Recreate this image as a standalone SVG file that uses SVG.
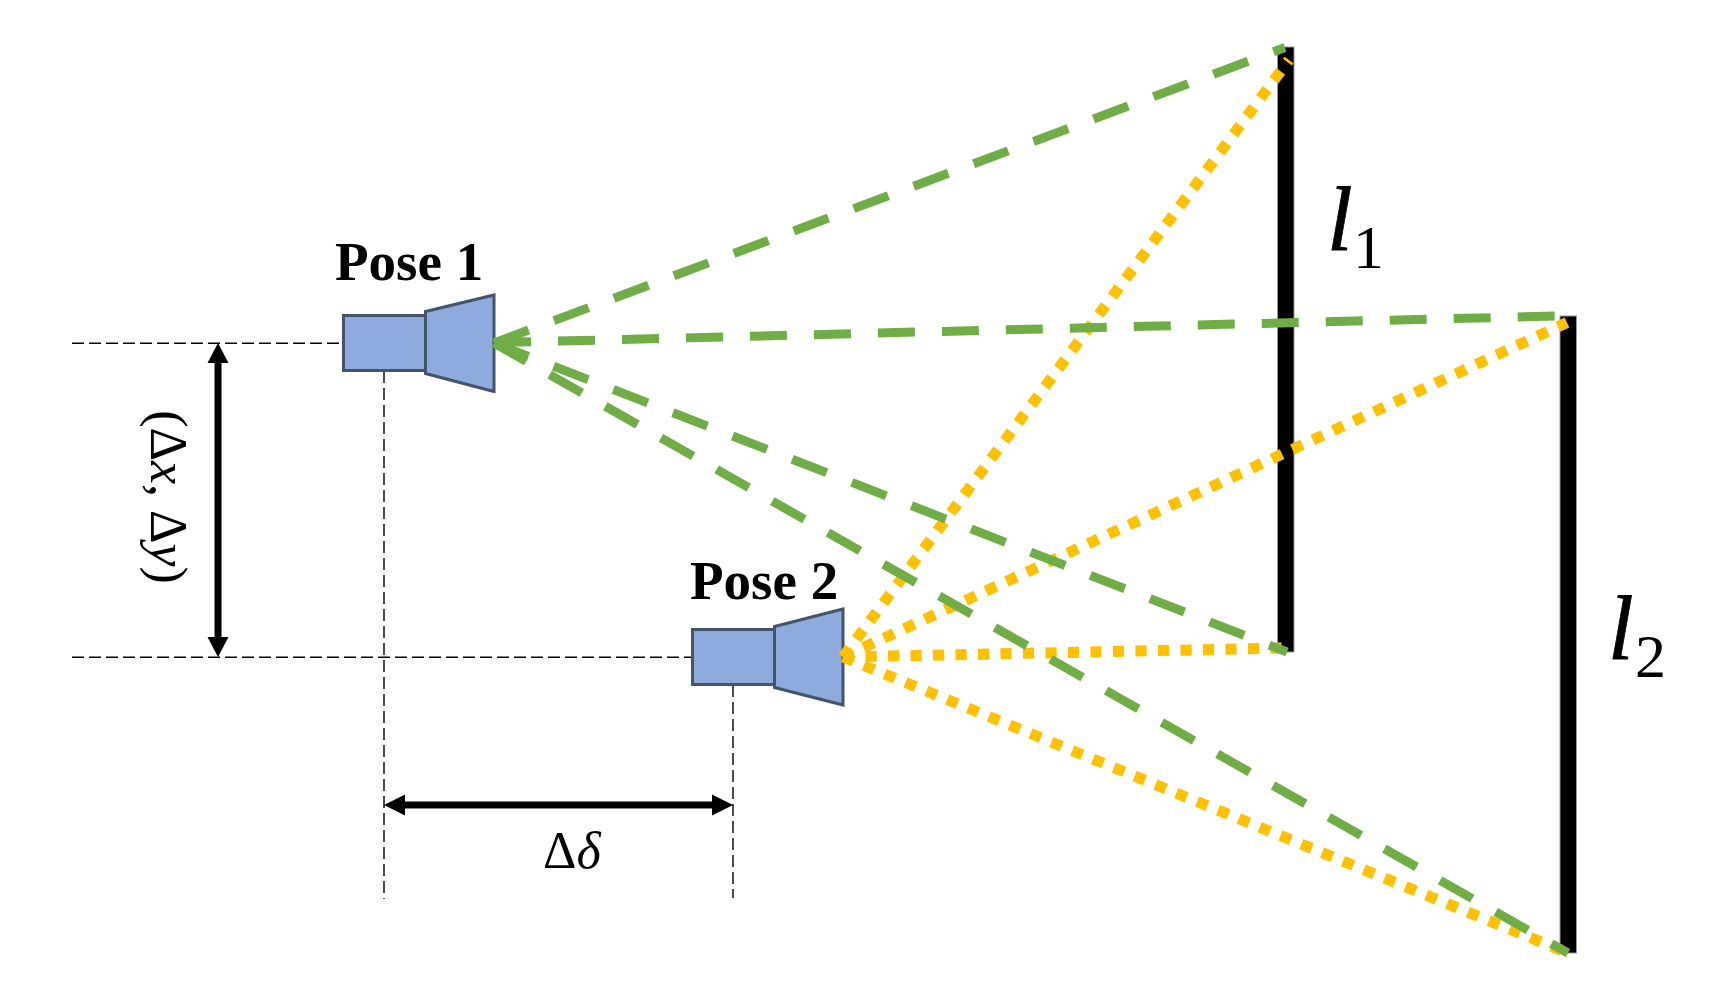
<svg xmlns="http://www.w3.org/2000/svg" width="1734" height="1002" viewBox="0 0 1734 1002">
<style>
.cam{fill:#8FAADC;stroke:#44546A;stroke-width:3;stroke-linejoin:miter}
.wall{fill:#000;stroke:#999;stroke-width:1}
.thin{stroke:#000;stroke-width:1.4;stroke-dasharray:12 5;fill:none}
.dim{stroke:#000;stroke-width:7;fill:none}
.head{fill:#000}
.green{stroke:#70AD47;stroke-width:9;stroke-dasharray:37 27;fill:none}
.yellow{stroke:#FFC000;stroke-width:11;stroke-dasharray:11.2 11.3;fill:none}
.serif{font-family:"Liberation Serif","Times New Roman",serif;fill:#000}
.pose{font-size:55px;font-weight:bold}
.math{font-size:52px}
.it{font-style:italic}
.ell{font-size:92px;font-style:italic;stroke:#000;stroke-width:0.8}
.sub{font-size:62px}
</style>
<rect width="1734" height="1002" fill="#fff"/>
<g id="guides">
<line class="thin" x1="72" y1="343.300" x2="343" y2="343.300"/>
<line class="thin" x1="72" y1="657.300" x2="692" y2="657.300"/>
<line class="thin" x1="384" y1="371" x2="384" y2="899"/>
<line class="thin" x1="733" y1="685" x2="733" y2="898"/>
</g>
<g id="wall-l1"><rect class="wall" x="1277.500" y="47" width="16.500" height="605"/></g>
<g id="wall-l2"><rect class="wall" x="1560" y="316" width="16.500" height="637"/></g>
<g id="pose1">
<rect class="cam" x="343.500" y="315.500" width="82" height="55"/>
<polygon class="cam" points="425.500,311.500 494,295 494,391.500 425.500,373.500"/>
<text class="serif pose" x="335" y="280">Pose 1</text>
</g>
<g id="pose2">
<rect class="cam" x="692.500" y="629.500" width="82" height="55"/>
<polygon class="cam" points="774.500,626.500 843,609 843,705 774.500,687.500"/>
<text class="serif pose" x="690" y="598.500">Pose 2</text>
</g>
<g id="connectors">
<g id="yellow-lines">
<line class="yellow" x1="843" y1="657" x2="1289" y2="60"/>
<line class="yellow" x1="843" y1="657" x2="1567" y2="322.500"/>
<line class="yellow" x1="843" y1="657" x2="1285" y2="648"/>
<line class="yellow" x1="843" y1="657" x2="1561.500" y2="950.300"/>
</g>
<g id="green-lines">
<line class="green" x1="494" y1="343" x2="1285" y2="47.500"/>
<line class="green" x1="494" y1="342.700" x2="1556" y2="316"/>
<line class="green" x1="494" y1="343" x2="1287" y2="652"/>
<line class="green" x1="494" y1="343" x2="1568" y2="953"/>
</g>
<g id="dim-vertical">
<line class="dim" x1="218" y1="360" x2="218" y2="640"/>
<polygon class="head" points="218,343 228.500,363 207.500,363"/>
<polygon class="head" points="218,657 228.500,637 207.500,637"/>
</g>
<g id="dim-horizontal">
<line class="dim" x1="400" y1="805" x2="716" y2="805"/>
<polygon class="head" points="384,805 405,794.500 405,815.500"/>
<polygon class="head" points="733,805 712,794.500 712,815.500"/>
</g>
</g>
<g id="labels">
<text class="serif ell" x="1327" y="250">l</text>
<text class="serif sub" x="1353" y="268">1</text>
<text class="serif ell" x="1608" y="659">l</text>
<text class="serif sub" x="1635" y="677">2</text>
<text class="serif math" transform="translate(151 497) rotate(90)" text-anchor="middle">(Δ<tspan class="it">x</tspan>, Δ<tspan class="it">y</tspan>)</text>
<text class="serif math" x="543" y="868">Δ<tspan class="it">δ</tspan></text>
</g>
</svg>
